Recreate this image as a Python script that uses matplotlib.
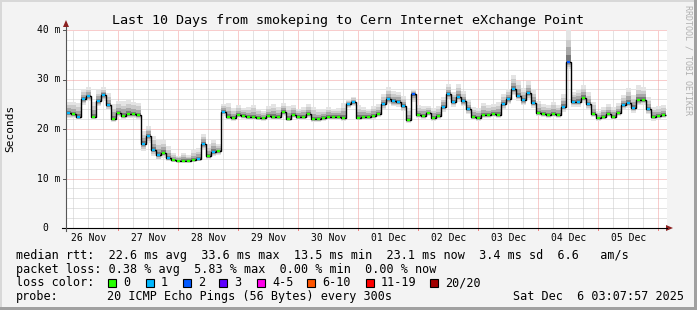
import matplotlib
matplotlib.use("Agg")
import matplotlib.pyplot as plt
import matplotlib.transforms as mtransforms
from matplotlib.patches import Rectangle, Polygon
import numpy as np

plt.rcParams['font.family'] = ['DejaVu Sans Mono']

W, H = 697, 310

# median rtt in ms, one value per 2 hour slot, starting Nov 26 03:08
median_ms = [
    23.2, 23.0, 22.4, 26.0, 26.6, 22.5, 25.6, 26.9, 24.8, 22.0, 23.2, 22.6,
    23.0, 23.0, 22.8, 17.0, 18.6, 15.8, 14.7, 15.2, 14.1, 13.7, 13.6, 13.6,
    13.6, 13.7, 13.9, 17.0, 14.5, 15.4, 15.5, 23.5, 22.4, 22.2, 22.8, 22.7,
    22.4, 22.4, 22.3, 22.2, 22.6, 22.5, 22.4, 23.4, 22.1, 22.9, 22.5, 22.5,
    23.0, 22.0, 22.0, 22.2, 22.5, 22.5, 22.4, 22.2, 25.0, 25.5, 22.3, 22.5,
    22.5, 22.7, 23.0, 25.0, 26.0, 25.6, 25.5, 24.6, 21.8, 27.0, 22.8, 22.7,
    23.2, 22.3, 22.6, 24.5, 27.0, 25.5, 26.5, 25.6, 24.0, 22.5, 22.3, 22.8,
    22.8, 23.0, 22.9, 25.0, 26.0, 28.0, 26.7, 25.8, 27.2, 25.3, 23.2, 23.0,
    22.9, 23.0, 22.9, 24.5, 33.6, 25.5, 25.5, 26.3, 25.0, 23.0, 22.2, 22.5,
    23.0, 22.5, 23.2, 24.8, 25.3, 24.3, 25.8, 25.9, 24.0, 22.5, 22.6, 22.8,
]
# lost pings (of 20) per slot
loss = [
    1, 0, 1, 1, 1, 0, 1, 1, 1, 0, 0, 0, 0, 0, 0, 1, 1, 1, 1, 0, 1, 0, 0, 0,
    0, 0, 1, 1, 0, 1, 0, 1, 0, 0, 0, 0, 0, 0, 0, 0, 0, 0, 0, 0, 0, 0, 0, 0,
    0, 0, 0, 0, 0, 0, 0, 0, 1, 1, 0, 0, 0, 0, 0, 1, 1, 1, 1, 1, 0, 2, 0, 0,
    0, 0, 0, 1, 1, 1, 1, 1, 1, 0, 0, 0, 0, 0, 0, 1, 1, 1, 1, 1, 1, 1, 0, 0,
    0, 0, 0, 1, 2, 1, 1, 0, 1, 0, 0, 0, 0, 0, 0, 1, 1, 1, 0, 0, 1, 0, 0, 0,
]
# how far the smoke reaches above / below the median (ms)
smoke_up = [
    2.3, 2.5, 2.8, 2.0, 1.8, 3.0, 2.2, 1.5, 2.5, 3.0, 2.5, 3.0, 2.8, 2.5, 2.5,
    2.5, 2.0, 2.8, 3.0, 2.5, 2.5,
    1.5, 1.0, 1.5, 1.2, 2.0, 2.2,
    2.0, 2.5, 2.5, 1.5,
    1.5, 2.8, 2.0, 2.0, 1.5, 2.0, 2.5, 1.8, 1.5, 2.0, 2.5, 2.0, 1.8, 2.5, 2.0,
    1.5, 2.0, 2.0, 2.5, 2.0, 1.8, 2.0, 1.5, 1.8, 3.0, 1.0, 1.0, 2.5, 2.0, 1.5,
    2.0, 2.0, 2.0, 2.5, 2.0, 2.0, 2.0, 2.5, 1.0, 2.0, 2.0, 1.5, 2.0, 2.0, 2.0,
    2.0, 2.0, 2.5, 2.0, 2.0,
    2.0, 2.0, 2.5, 2.0, 2.0, 2.5, 2.0, 2.0, 3.0, 3.0, 2.5, 2.5, 2.5, 2.5, 2.0,
    2.0, 2.5, 2.0, 2.5,
    6.4,
    2.0, 2.5, 2.5, 2.5, 2.5, 1.5, 2.0, 2.0, 2.0, 2.0, 2.0, 3.0, 2.5, 3.0, 2.5,
    2.5, 2.0, 2.0, 2.0,
]
smoke_dn = [
    1.0, 0.8, 0.6, 1.2, 1.0, 0.5, 1.0, 1.2, 1.0, 0.5, 0.8, 0.6, 0.8, 0.8, 0.8,
    1.5, 1.5, 1.2, 1.0, 1.0, 0.6,
    0.3, 0.3, 0.3, 0.3, 0.3, 0.4,
    1.2, 0.6, 0.8, 0.8,
    0.8, 0.6, 0.5, 0.6, 0.6, 0.6, 0.6, 0.5, 0.5, 0.6, 0.6, 0.6, 0.8, 0.5, 0.6,
    0.6, 0.6, 0.7, 0.5, 0.5, 0.5, 0.6, 0.6, 0.6, 0.5, 0.8, 0.8, 0.5, 0.6, 0.6,
    0.6, 0.6, 1.0, 1.0, 1.0, 1.0, 1.0, 0.6, 1.5, 0.6, 0.6, 0.6, 0.6, 0.6, 1.0,
    1.2, 1.0, 1.0, 1.0, 1.0,
    0.6, 0.6, 0.6, 0.6, 0.6, 0.6, 1.0, 1.0, 1.2, 1.0, 1.0, 1.2, 1.0, 0.6, 0.6,
    0.6, 0.6, 0.6, 1.0,
    1.5,
    1.0, 1.0, 1.0, 1.0, 0.6, 0.5, 0.6, 0.6, 0.6, 0.6, 0.8, 1.0, 1.0, 1.0, 1.0,
    1.0, 0.8, 0.6, 0.6,
]

day_labels = ['26 Nov', '27 Nov', '28 Nov', '29 Nov', '30 Nov',
              '01 Dec', '02 Dec', '03 Dec', '04 Dec', '05 Dec']
first_midnight = 0.8695   # days after graph start
slot = 1.0 / 12           # 2 hours

loss_names = ['0', '1', '2', '3', '4-5', '6-10', '11-19', '20/20']
loss_colors = ['#26ff00', '#00b8ff', '#0059ff', '#5e00ff', '#ff00ea',
               '#ff5500', '#ff0000', '#a10000']

fig = plt.figure(figsize=(W / 100, H / 100), dpi=100)
fig.patch.set_facecolor('#f3f3f3')

def fx(x):
    return x / W

def fy(y):
    return 1 - y / H

# 3d-ish frame
fig.patches.append(Rectangle((0, fy(2)), 1, 2 / H, transform=fig.transFigure, color='#d8d8d8', lw=0))
fig.patches.append(Rectangle((0, 0), 2 / W, 1, transform=fig.transFigure, color='#d8d8d8', lw=0))
fig.patches.append(Rectangle((fx(694), 0), 3 / W, 1, transform=fig.transFigure, color='#a0a0a0', lw=0))
fig.patches.append(Rectangle((0, 0), 1, 3 / H, transform=fig.transFigure, color='#a0a0a0', lw=0))

ax = fig.add_axes([fx(66), fy(228), 601 / W, 198 / H])
ax.set_facecolor('white')
ax.set_xlim(0, 601 / 60)
ax.set_ylim(0, 40)
for s in ax.spines.values():
    s.set_visible(False)
ax.set_xticks([])
ax.set_yticks([])

# dotted grid
dot = (0, (1, 1))
minor_c, major_c = '#c8c8c8', '#f29a9a'
for k in range(-4, 40):
    t = first_midnight + k * 0.25
    if t <= 0 or t >= 601 / 60:
        continue
    if k % 4 == 0:
        ax.axvline(t, color=major_c, lw=0.72, ls=dot, zorder=1)
    else:
        ax.axvline(t, color=minor_c, lw=0.72, ls=dot, zorder=0.5)
for v in range(2, 41, 2):
    if v % 10 == 0:
        ax.axhline(v, color=major_c, lw=0.72, ls=dot, zorder=1)
    else:
        ax.axhline(v, color=minor_c, lw=0.72, ls=dot, zorder=0.5)

med = np.array(median_ms)
up = np.array(smoke_up)
dn = np.array(smoke_dn)
edges = np.arange(len(med) + 1) * slot

# smoke layers, light outside, darker near the median
fracs = [1.0, 0.7, 0.45, 0.2]
greys = ['#e4e4e4', '#cbcbcb', '#a8a8a8', '#7a7a7a']
for f, g in zip(fracs, greys):
    ax.stairs(med + up * f, edges, baseline=med - dn * f, fill=True,
              color=g, lw=0, zorder=2)

ax.stairs(med, edges, baseline=None, color='black', lw=1.0, zorder=3)
for i, m in enumerate(med):
    ax.hlines(m, edges[i] + 0.15 * slot, edges[i + 1] - 0.15 * slot,
              color=loss_colors[loss[i]], lw=1.6, zorder=4)

# axes lines and arrows
fig.add_artist(plt.Line2D([fx(62), fx(667)], [fy(228), fy(228)], color='black', lw=0.8))
fig.add_artist(plt.Line2D([fx(66), fx(66)], [fy(231), fy(27)], color='#555555', lw=0.8))
fig.patches.append(Polygon([(fx(666), fy(225)), (fx(673), fy(228)), (fx(666), fy(231))],
                           closed=True, transform=fig.transFigure, color='#8b2020', lw=0))
fig.patches.append(Polygon([(fx(63), fy(27)), (fx(66), fy(20)), (fx(69), fy(27))],
                           closed=True, transform=fig.transFigure, color='#8b2020', lw=0))

# y labels
ytr = mtransforms.blended_transform_factory(fig.transFigure, ax.transData)
for v in [10, 20, 30, 40]:
    fig.text(fx(60), v, '%d m' % v, transform=ytr, ha='right', va='center', fontsize=7)
    ax.plot([-3 / 60, 0], [v, v], color='#555555', lw=0.7, clip_on=False)
fig.text(fx(48.5), 0, '0', transform=ytr, ha='right', va='center', fontsize=7)
ax.plot([-4 / 60, 0], [0, 0], color='#555555', lw=0.7, clip_on=False)

# x labels at noon
xtr = mtransforms.blended_transform_factory(ax.transData, fig.transFigure)
for k, lab in enumerate(day_labels):
    t = first_midnight - 0.5 + k
    fig.text(t, fy(241), lab, transform=xtr, ha='center', va='baseline', fontsize=7)
for k in range(10):
    t = first_midnight + k
    ax.plot([t, t], [-0.5, 0], color='#f08080', lw=0.7, clip_on=False)

fig.text(0.5, fy(24), 'Last 10 Days from smokeping to Cern Internet eXchange Point',
         ha='center', va='baseline', fontsize=9.6)
fig.text(fx(10), fy(128), 'Seconds', rotation=90, ha='center', va='center', fontsize=8)
fig.text(fx(688), fy(5), 'RRDTOOL / TOBI OETIKER', rotation=270, ha='center', va='top',
         fontsize=6, color='#b0b0b0')

fs = 8.5
fig.text(fx(16), fy(258.5),
         'median rtt:  22.6 ms avg  33.6 ms max  13.5 ms min  23.1 ms now  3.4 ms sd  6.6   am/s',
         ha='left', va='baseline', fontsize=fs)
fig.text(fx(16), fy(272.5),
         'packet loss: 0.38 % avg  5.83 % max  0.00 % min  0.00 % now',
         ha='left', va='baseline', fontsize=fs)

fig.text(fx(16), fy(286.5), 'loss color:', ha='left', va='baseline', fontsize=fs)
box_x = [108, 146, 183, 219, 257, 307, 366, 430]
for bx, name, col in zip(box_x, loss_names, loss_colors):
    fig.patches.append(Rectangle((fx(bx), fy(287)), 8 / W, 8 / H, transform=fig.transFigure,
                                 facecolor=col, edgecolor='black', lw=0.8))
    fig.text(fx(bx + 15), fy(286.5), name, ha='left', va='baseline', fontsize=fs)

fig.text(fx(16), fy(300), 'probe:', ha='left', va='baseline', fontsize=fs)
fig.text(fx(107), fy(300), '20 ICMP Echo Pings (56 Bytes) every 300s', ha='left',
         va='baseline', fontsize=fs)
fig.text(fx(513), fy(300), 'Sat Dec  6 03:07:57 2025', ha='left', va='baseline', fontsize=fs)

fig.savefig('out.png', dpi=100, facecolor=fig.get_facecolor())
